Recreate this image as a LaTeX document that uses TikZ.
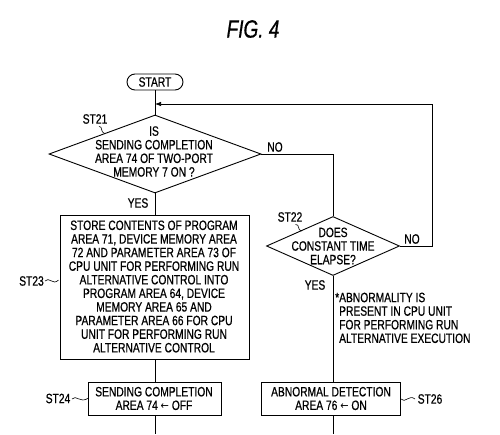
\documentclass[tikz,border=0pt]{standalone}
\usepackage{fontspec}
\setmainfont{Liberation Sans}[FakeStretch=0.76,FakeBold=0.6]
\newfontfamily\arrowfont{DejaVu Sans}[FakeStretch=0.9]
\newcommand{\larr}{{\arrowfont\fontsize{11}{13.6}\selectfont ←}}
\usetikzlibrary{shapes.geometric,arrows.meta}
\begin{document}
\begin{tikzpicture}[x=1pt,y=1pt,
  base/.style={font=\fontsize{13.5}{13.6}\selectfont},
  proc/.style={draw,line width=0.9pt,inner sep=0,base},
  dec/.style={draw,diamond,line width=0.9pt,inner sep=0,aspect=1},
  txt/.style={base,align=center,inner sep=0},
  lbl/.style={base,inner sep=0},
  flow/.style={line width=0.7pt},
  squig/.style={line width=0.6pt}]
\useasboundingbox (0,0) rectangle (500,-434);
\node[font=\fontsize{25}{26}\selectfont\itshape] (title) at (253,-29) {FIG. 4};
\node[proc,rounded corners=8pt,minimum width=56pt,minimum height=16pt] (start) at (155,-82) {START};
\node[dec,minimum width=212pt,minimum height=78pt] (d1) at (155,-154) {};
\node[txt] (d1t) at (154,-151.5) {IS\\SENDING COMPLETION\\AREA 74 OF TWO-PORT\\MEMORY 7 ON ?};
\node[proc,minimum width=189pt,minimum height=144pt] (b1) at (155,-287) {};
\node[txt] (b1t) at (154,-286.5) {STORE CONTENTS OF PROGRAM\\AREA 71, DEVICE MEMORY AREA\\72 AND PARAMETER AREA 73 OF\\CPU UNIT FOR PERFORMING RUN\\ALTERNATIVE CONTROL INTO\\PROGRAM AREA 64, DEVICE\\MEMORY AREA 65 AND\\PARAMETER AREA 66 FOR CPU\\UNIT FOR PERFORMING RUN\\ALTERNATIVE CONTROL};
\node[proc,minimum width=133pt,minimum height=33pt] (b2) at (155,-398.5) {};
\node[txt] (b2t) at (154,-398.5) {SENDING COMPLETION\\AREA 74 \larr\ OFF};
\node[dec,minimum width=133pt,minimum height=59pt] (d2) at (333,-246) {};
\node[txt] (d2t) at (333,-246) {DOES\\CONSTANT TIME\\ELAPSE?};
\node[proc,minimum width=139pt,minimum height=33pt] (b3) at (331,-398.5) {};
\node[txt] (b3t) at (331,-398.5) {ABNORMAL DETECTION\\AREA 76 \larr\ ON};
% labels
\node[lbl] (l21) at (95,-119) {ST21};
\node[lbl] (l22) at (290,-217) {ST22};
\node[lbl] (l23) at (31.5,-281) {ST23};
\node[lbl] (l24) at (58,-398.5) {ST24};
\node[lbl] (l26) at (430,-399) {ST26};
\node[lbl] (no1) at (275,-147) {NO};
\node[lbl] (yes1) at (138,-203) {YES};
\node[lbl] (no2) at (412,-239) {NO};
\node[lbl] (yes2) at (315,-285) {YES};
\node[base,align=left,anchor=north west,inner sep=0] (note) at (335,-292.5) {*ABNORMALITY IS\\\phantom{*}PRESENT IN CPU UNIT\\\phantom{*}FOR PERFORMING RUN\\\phantom{*}ALTERNATIVE EXECUTION};
% squiggles
\draw[squig] (99,-126.5) .. controls (103,-126) and (100,-132) .. (104.5,-133.5);
\draw[squig] (295.5,-224.5) .. controls (300,-224) and (297,-230) .. (301.5,-231.2);
\draw[squig] (45,-281) .. controls (49,-276) and (53,-286) .. (58.5,-280);
\draw[squig] (72,-399) .. controls (76,-394) and (80,-404) .. (88.5,-398);
\draw[squig] (401,-399) .. controls (405,-404) and (409,-394) .. (415,-399);
% connectors
\coordinate (lr) at (432,-104);
\coordinate (e1) at (155,-434);
\coordinate (e2) at (333,-434);
\draw[flow] (start.south) -- (d1.north);
\draw[flow] (d1.south) -- (b1.north);
\draw[flow] (b1.south) -- (b2.north);
\draw[flow] (b2.south) -- (e1);
\draw[flow] (d1.east) -| (d2.north);
\draw[flow] (d2.south) -- (d2.south |- b3.north);
\draw[flow] (d2.south |- b3.south) -- (e2);
\draw[flow,-{Latex[length=6pt,width=4.5pt]}] (d2.east) -| (lr) -- (start.south |- lr);
\end{tikzpicture}
\end{document}
